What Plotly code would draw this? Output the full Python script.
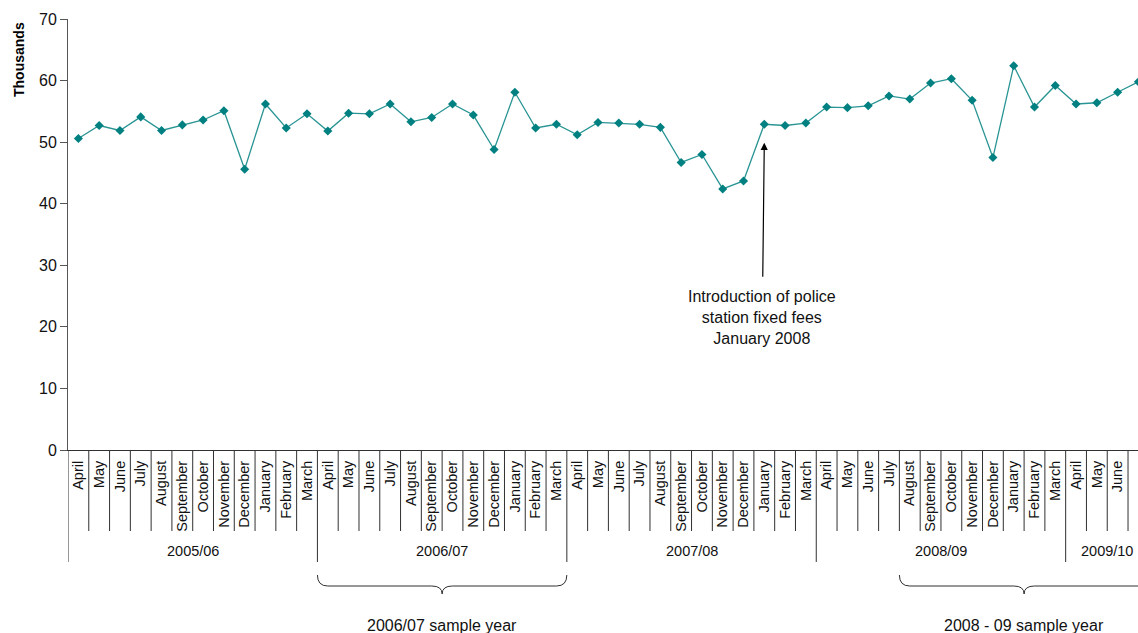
import plotly.graph_objects as go

# ---- data ----
fiscal_years = ["2005/06", "2006/07", "2007/08", "2008/09", "2009/10"]
months_per_year = [12, 12, 12, 12, 4]
month_names = ["April", "May", "June", "July", "August", "September", "October",
               "November", "December", "January", "February", "March"]
values_2005_06 = [50.6, 52.7, 51.9, 54.1, 51.9, 52.8, 53.6, 55.1, 45.6, 56.2, 52.3, 54.6]
values_2006_07 = [51.8, 54.7, 54.6, 56.2, 53.3, 54.0, 56.2, 54.4, 48.8, 58.1, 52.3, 52.9]
values_2007_08 = [51.2, 53.2, 53.1, 52.9, 52.4, 46.7, 48.0, 42.4, 43.7, 52.9, 52.7, 53.1]
values_2008_09 = [55.7, 55.6, 55.9, 57.5, 57.0, 59.6, 60.3, 56.8, 47.5, 62.4, 55.7, 59.2]
values_2009_10 = [56.2, 56.4, 58.1, 59.8]
annotation_text = "Introduction of police<br>station fixed fees<br>January 2008"
annotation_month_index = 33     # January 2008
annotation_value = 49.9
sample_years = [("2006/07 sample year", 12, 24), ("2008 - 09 sample year", 40, 52)]

values = values_2005_06 + values_2006_07 + values_2007_08 + values_2008_09 + values_2009_10
labels = []
for n in months_per_year:
    labels += month_names[:n]
xs = list(range(len(values)))

# ---- geometry helpers ----
W, H = 1138, 633
ML, MT, MB = 68, 19, 183
plot_h = H - MT - MB


def py(pixel_y):
    """convert pixel y (from top of page) to paper y"""
    return (H - MB - pixel_y) / plot_h


FONT = "Liberation Sans, Arial, sans-serif"
LINE_COL = "#303030"

fig = go.Figure()
fig.add_trace(go.Scatter(
    x=xs, y=values, mode="lines+markers",
    line=dict(color="#2a9494", width=1.3),
    marker=dict(symbol="diamond", size=7, color="#008080"),
    showlegend=False, hoverinfo="skip"))

shapes = []
# month separators and fiscal-year separators
starts = []
s = 0
for n in months_per_year:
    starts.append(s)
    s += n
for b in range(len(values)):
    if b in starts:
        shapes.append(dict(type="line", xref="x", yref="paper", x0=b - 0.5, x1=b - 0.5,
                           y0=0, y1=py(562), line=dict(color=LINE_COL, width=1)))
    else:
        shapes.append(dict(type="line", xref="x", yref="paper", x0=b - 0.5, x1=b - 0.5,
                           y0=0, y1=py(531), line=dict(color=LINE_COL, width=1)))

annotations = []
for fy, st, n in zip(fiscal_years, starts, months_per_year):
    annotations.append(dict(x=st + (n - 1) / 2, y=py(551), xref="x", yref="paper",
                            text=fy, showarrow=False, xanchor="center", yanchor="middle",
                            font=dict(family=FONT, size=14.5, color="#111")))

# braces
ye, yh, yt = py(575), py(586), py(594)
d = 0.5
for txt, a, b in sample_years:
    xa, xb = a - 0.5, b - 0.5
    xm = (xa + xb) / 2
    path = (f"M {xa},{ye} Q {xa},{yh} {xa + d},{yh} L {xm - d},{yh} "
            f"Q {xm},{yh} {xm},{yt} Q {xm},{yh} {xm + d},{yh} L {xb - d},{yh} "
            f"Q {xb},{yh} {xb},{ye}")
    shapes.append(dict(type="path", xref="x", yref="paper", path=path,
                       line=dict(color=LINE_COL, width=1)))
    annotations.append(dict(x=xm, y=py(625), xref="x", yref="paper", text=txt,
                            showarrow=False, xanchor="center", yanchor="middle",
                            font=dict(family=FONT, size=16, color="#111")))

# policy annotation
annotations.append(dict(x=annotation_month_index, y=annotation_value, xref="x", yref="y",
                        text=annotation_text, showarrow=True, arrowhead=2, arrowsize=1.2,
                        arrowwidth=1.2, arrowcolor="#000", ax=-2, ay=175, startstandoff=10,
                        font=dict(family=FONT, size=16, color="#111"), align="center"))

# y title
annotations.append(dict(x=(19 - ML) / (W - ML), y=py(60), xref="paper", yref="paper",
                        text="<b>Thousands</b>", textangle=-90, showarrow=False,
                        xanchor="center", yanchor="middle",
                        font=dict(family=FONT, size=14, color="#000")))

fig.update_layout(
    width=W, height=H,
    margin=dict(l=ML, r=0, t=MT, b=MB, pad=0),
    paper_bgcolor="white", plot_bgcolor="white",
    shapes=shapes, annotations=annotations,
    xaxis=dict(range=[-0.5, 50.98], tickmode="array", tickvals=xs, ticktext=labels,
               tickangle=-90, ticks="", showgrid=False, zeroline=False,
               showline=True, linecolor=LINE_COL, linewidth=1, automargin=False,
               tickfont=dict(family=FONT, size=14.5, color="#111"), ticklabelstandoff=4),
    yaxis=dict(range=[0, 70], dtick=10, ticks="outside", ticklen=7, tickcolor="#555",
               showgrid=False, zeroline=False, showline=True, linecolor="#555",
               linewidth=1, automargin=False,
               tickfont=dict(family=FONT, size=16, color="#111")),
)

fig.write_html("out.html")
